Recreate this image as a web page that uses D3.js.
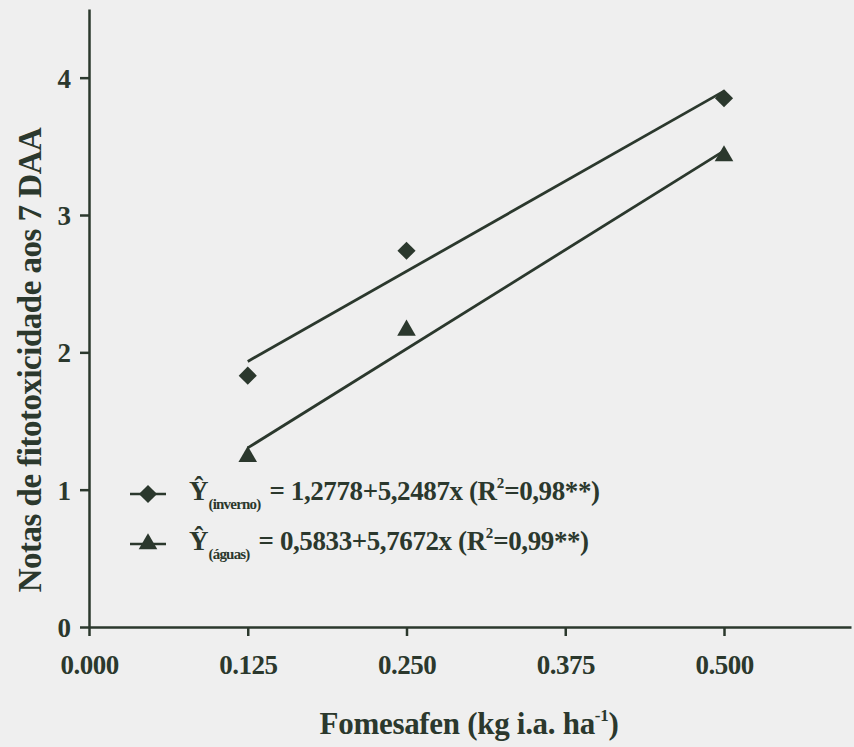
<!DOCTYPE html>
<html>
<head>
<meta charset="utf-8">
<script src="https://cdn.jsdelivr.net/npm/d3@7"></script>
</head>
<body style="margin:0; background:#efefef">
<div id="chart"></div>
<script>
// doses of fomesafen (kg i.a. ha-1)
var doses = [0.125, 0.250, 0.500];
// observed scores
var inverno = [1.83, 2.74, 3.85];
var aguas = [1.24, 2.16, 3.43];
// fitted equations (intercept, slope)
var fitInverno = [1.2778, 5.2487];
var fitAguas = [0.5833, 5.7672];
var xTicks = [0, 0.125, 0.25, 0.375, 0.5];
var yTicks = [0, 1, 2, 3, 4];

var w = 854, h = 747;
var ink = "#2b382d";

var svg = d3.select("#chart")
    .append("svg")
    .attr("width", w)
    .attr("height", h)
    .style("display", "block");

var x = d3.scaleLinear().domain([0, 0.6]).range([89, 851]);
var y = d3.scaleLinear().domain([0, 4.5]).range([627, 9]);

// axes
var xAxis = svg.append("g")
    .attr("transform", "translate(0," + y(0) + ")")
    .call(d3.axisBottom(x).tickValues(xTicks).tickFormat(d3.format(".3f"))
        .tickSize(9).tickSizeOuter(0).tickPadding(19));
var yAxis = svg.append("g")
    .attr("transform", "translate(" + x(0) + ",0)")
    .call(d3.axisLeft(y).tickValues(yTicks).tickFormat(d3.format("d"))
        .tickSize(9).tickSizeOuter(0).tickPadding(9));

svg.selectAll("g").attr("font-family", null);
svg.selectAll(".domain, .tick line")
    .attr("stroke", ink)
    .attr("stroke-width", 2.5);
xAxis.selectAll("text").attr("font-size", 27).attr("letter-spacing", -0.5);
yAxis.selectAll("text").attr("font-size", 27).attr("dy", "0.35em");

// axis titles
var xt = svg.append("text")
    .attr("x", 469).attr("y", 734)
    .attr("text-anchor", "middle")
    .attr("font-size", 31)
    .attr("letter-spacing", -0.3);
xt.append("tspan").text("Fomesafen (kg i.a. ha");
xt.append("tspan").attr("font-size", 17).attr("dy", -13).text("-1");
xt.append("tspan").attr("dy", 13).text(")");

svg.append("text")
    .attr("transform", "translate(41,360) rotate(-90)")
    .attr("text-anchor", "middle")
    .attr("font-size", 33)
    .attr("letter-spacing", -0.5)
    .text("Notas de fitotoxicidade aos 7 DAA");

// regression lines
function fitLine(fit) {
    return [doses[0], doses[doses.length - 1]].map(function(d) {
        return [x(d), y(fit[0] + fit[1] * d)];
    });
}
var line = d3.line();
[fitInverno, fitAguas].forEach(function(fit) {
    svg.append("path")
        .attr("d", line(fitLine(fit)))
        .attr("fill", "none")
        .attr("stroke", ink)
        .attr("stroke-width", 2.8);
});

// points
var diamond = d3.symbol().type(d3.symbolDiamond2).size(210);
var triangle = d3.symbol().type(d3.symbolTriangle).size(150);

svg.selectAll(".inv")
    .data(doses)
    .enter().append("path")
    .attr("class", "inv")
    .attr("d", diamond)
    .attr("transform", function(d, i) { return "translate(" + x(d) + "," + y(inverno[i]) + ")"; })
    .attr("fill", ink);

svg.selectAll(".agu")
    .data(doses)
    .enter().append("path")
    .attr("class", "agu")
    .attr("d", triangle)
    .attr("transform", function(d, i) { return "translate(" + x(d) + "," + y(aguas[i]) + ")"; })
    .attr("fill", ink);

// legend
var legend = [
    { sym: diamond, sub: "(inverno)", eq: "= 1,2778+5,2487x (R", r2: "=0,98**)", y: 494 },
    { sym: triangle, sub: "(águas)", eq: "= 0,5833+5,7672x (R", r2: "=0,99**)", y: 544 }
];
legend.forEach(function(l) {
    var g = svg.append("g").attr("transform", "translate(0," + l.y + ")");
    g.append("line")
        .attr("x1", 130).attr("x2", 166)
        .attr("stroke", ink).attr("stroke-width", 2.5);
    g.append("path").attr("d", l.sym).attr("fill", ink)
        .attr("transform", "translate(148,0)");
    var t = g.append("text").attr("x", 189).attr("y", 6)
        .attr("font-size", 27);
    t.append("tspan").text("Ŷ");
    t.append("tspan").attr("font-size", 15).attr("letter-spacing", -0.8).attr("dy", 9).text(l.sub);
    t.append("tspan").attr("dx", 9).attr("dy", -9).attr("letter-spacing", -0.4).text(l.eq);
    t.append("tspan").attr("font-size", 15).attr("dy", -12).text("2");
    t.append("tspan").attr("dy", 12).attr("letter-spacing", -0.4).text(l.r2);
});

// serif bold, dark green ink
svg.selectAll("text")
    .style("font-family", "'Liberation Serif'")
    .style("font-weight", "bold")
    .style("fill", ink);
</script>
</body>
</html>
